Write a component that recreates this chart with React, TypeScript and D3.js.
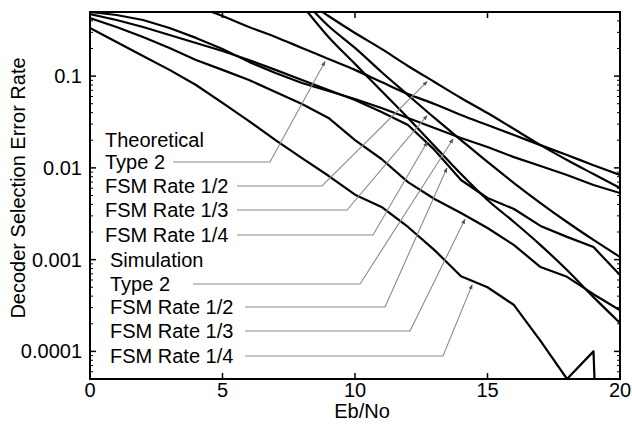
import React from 'react';
import * as d3 from 'd3';

// ---------- data ----------
const ebNo = [0,1,2,3,4,5,6,7,8,9,10,11,12,13,14,15,16,17,18,19,20];

// Simulation results (one value per Eb/No point)
const simType2 = [0.5,0.464,0.409,0.335,0.261,0.198,0.143,0.108,0.0842,0.0689,0.0564,0.045,0.035,0.0272,0.0212,0.0169,0.0131,0.0105,0.00836,0.0065,0.00532];
const simFsm12 = [0.475,0.409,0.343,0.281,0.23,0.188,0.15,0.117,0.0908,0.0706,0.055,0.0406,0.0293,0.0157,0.00738,0.0047,0.00356,0.00233,0.00177,0.00137,0.00068];
const simFsm13 = [0.43,0.343,0.267,0.203,0.15,0.117,0.0908,0.0671,0.0497,0.035,0.0201,0.0125,0.007,0.00458,0.00322,0.00221,0.00144,0.00083,0.00065,0.00042,0.00028];
const simFsm14 = [0.335,0.235,0.166,0.117,0.08,0.051,0.0324,0.0201,0.0128,0.0082,0.0051,0.00375,0.00227,0.00127,0.00066,0.0005,0.00032,0.00013,0.00005,0.0001,0];

// Theoretical curves (null = not plotted)
const theoryType2 = [null,null,null,null,0.581,0.452,0.343,0.267,0.203,0.154,0.117,0.0863,0.0638,0.0497,0.0377,0.0293,0.0228,0.0177,0.0138,0.0107,0.00836];
const theoryFsm12 = [null,null,null,null,null,null,null,null,0.711,0.452,0.295,0.198,0.129,0.0863,0.0578,0.0396,0.0265,0.0177,0.0122,0.00857,0.00604];
const theoryFsm13 = [null,null,null,null,null,null,null,null,0.693,0.352,0.203,0.111,0.0622,0.035,0.0201,0.0116,0.00684,0.00414,0.00257,0.00164,0.00107];
const theoryFsm14 = [null,null,null,null,null,null,null,null,0.596,0.267,0.136,0.0689,0.035,0.0173,0.00857,0.00447,0.00257,0.00144,0.00077,0.00039,0.000204];

const seriesLabels = ['Type 2', 'FSM Rate 1/2', 'FSM Rate 1/3', 'FSM Rate 1/4'];
const xTicks = [0, 5, 10, 15, 20];
const yTicks = [0.1, 0.01, 0.001, 0.0001];
const yTickLabels = ['0.1', '0.01', '0.001', '0.0001'];
const xTitle = 'Eb/No';
const yTitle = 'Decoder Selection Error Rate';

// annotation targets (Eb/No where each arrow meets its curve)
const theoryArrowEb = [8.87, 12.72, 12.72, 12.72];
const simArrowEb = [13.7, 13.47, 14.15, 14.42];

// ---------- layout ----------
const W = 632, H = 424;
const L = 90, R = 620, T = 12, B = 379;
const FONT = '"Liberation Sans", Arial, Helvetica, sans-serif';

export default function App() {
  const x = d3.scaleLinear().domain([0, 20]).range([L, R]);
  const y = d3.scaleLog().domain([5e-5, 0.5]).range([B, T]);
  const yv = (v: number) => y(Math.max(v, 1e-12));

  const toPts = (vals: (number | null)[]) =>
    vals.map((v, i) => (v == null ? null : [ebNo[i], v] as [number, number])).filter(Boolean) as [number, number][];

  const simLine = d3.line<[number, number]>().x(d => x(d[0])).y(d => yv(d[1]));
  const thLine = d3.line<[number, number]>().x(d => x(d[0])).y(d => yv(d[1])).curve(d3.curveMonotoneX);

  const theory = [theoryType2, theoryFsm12, theoryFsm13, theoryFsm14];
  const sim = [simType2, simFsm12, simFsm13, simFsm14];

  const interp = (vals: (number | null)[], eb: number) => {
    const i = Math.floor(eb);
    const a = vals[i] as number, b = vals[i + 1] as number;
    const t = eb - i;
    return Math.exp(Math.log(a) * (1 - t) + Math.log(b) * t);
  };

  // minor ticks
  const minor: number[] = [];
  for (let e = -5; e <= -1; e++) for (let m = 2; m <= 9; m++) {
    const v = m * Math.pow(10, e);
    if (v >= 5e-5 && v <= 0.5) minor.push(v);
  }

  const thBase = [169, 193, 217, 242];
  const simBase = [291, 314, 338, 363];
  const thLeadStart = [173, 237, 237, 237];
  const simLeadStart = [193, 245, 245, 245];
  const thElbow = [270, 322, 347, 373];
  const simElbow = [360, 385, 410, 443];

  const leader = (sx: number, ly: number, ex: number, vals: (number | null)[], eb: number, k: string) => {
    const tx = x(eb), ty = yv(interp(vals, eb)) + 4;
    return (
      <g key={k}>
        <polyline points={`${sx},${ly} ${ex},${ly} ${tx},${ty}`} fill="none" stroke="#8a8a8a" strokeWidth={1.1} markerEnd="url(#arr)" />
      </g>
    );
  };

  return (
    <svg width={W} height={H} style={{ position: 'absolute', left: 0, top: 0, background: '#fff' }} fontFamily={FONT}>
      <defs>
        <clipPath id="plot"><rect x={L} y={T} width={R - L} height={B - T} /></clipPath>
        <marker id="arr" viewBox="0 0 10 10" refX="9" refY="5" markerWidth="5" markerHeight="5" orient="auto" markerUnits="userSpaceOnUse">
          <path d="M0,1 L10,5 L0,9 z" fill="#555" />
        </marker>
      </defs>
      <rect width={W} height={H} fill="#fff" />

      {/* curves */}
      <g clipPath="url(#plot)" fill="none" stroke="#000" strokeWidth={2.2} strokeLinejoin="round">
        {theory.map((s, i) => <path key={'t' + i} d={thLine(toPts(s)) || ''} />)}
        {sim.map((s, i) => <path key={'s' + i} d={simLine(toPts(s)) || ''} />)}
      </g>

      {/* frame */}
      <rect x={L} y={T} width={R - L} height={B - T} fill="none" stroke="#000" strokeWidth={2} />

      {/* x ticks */}
      {xTicks.map(t => (
        <g key={'xt' + t}>
          <line x1={x(t)} x2={x(t)} y1={B} y2={B - 6} stroke="#000" strokeWidth={1.5} />
          <line x1={x(t)} x2={x(t)} y1={T} y2={T + 6} stroke="#000" strokeWidth={1.5} />
          <text x={x(t)} y={397} textAnchor="middle" fontSize={20}>{t}</text>
        </g>
      ))}
      {/* y ticks */}
      {yTicks.map((t, i) => (
        <g key={'yt' + t}>
          <line x1={L} x2={L + 6} y1={y(t)} y2={y(t)} stroke="#000" strokeWidth={1.5} />
          <line x1={R} x2={R - 6} y1={y(t)} y2={y(t)} stroke="#000" strokeWidth={1.5} />
          <text x={82} y={y(t)} dy="0.35em" textAnchor="end" fontSize={20}>{yTickLabels[i]}</text>
        </g>
      ))}
      {minor.map(v => (
        <g key={'mn' + v}>
          <line x1={L} x2={L + 3} y1={y(v)} y2={y(v)} stroke="#000" strokeWidth={1} />
          <line x1={R} x2={R - 3} y1={y(v)} y2={y(v)} stroke="#000" strokeWidth={1} />
        </g>
      ))}

      {/* titles */}
      <text x={362} y={418} textAnchor="middle" fontSize={20}>{xTitle}</text>
      <text transform="translate(25,188) rotate(-90)" textAnchor="middle" fontSize={20}>{yTitle}</text>

      {/* annotations */}
      <text x={105} y={147} fontSize={20}>Theoretical</text>
      {seriesLabels.map((lab, i) => (
        <text key={'tl' + i} x={105} y={thBase[i]} fontSize={20}>{lab}</text>
      ))}
      <text x={110} y={267} fontSize={20}>Simulation</text>
      {seriesLabels.map((lab, i) => (
        <text key={'sl' + i} x={110} y={simBase[i]} fontSize={20}>{lab}</text>
      ))}
      {seriesLabels.map((_, i) => leader(thLeadStart[i], thBase[i] - 7, thElbow[i], theory[i], theoryArrowEb[i], 'tla' + i))}
      {seriesLabels.map((_, i) => leader(simLeadStart[i], simBase[i] - 7, simElbow[i], sim[i], simArrowEb[i], 'sla' + i))}
    </svg>
  );
}
